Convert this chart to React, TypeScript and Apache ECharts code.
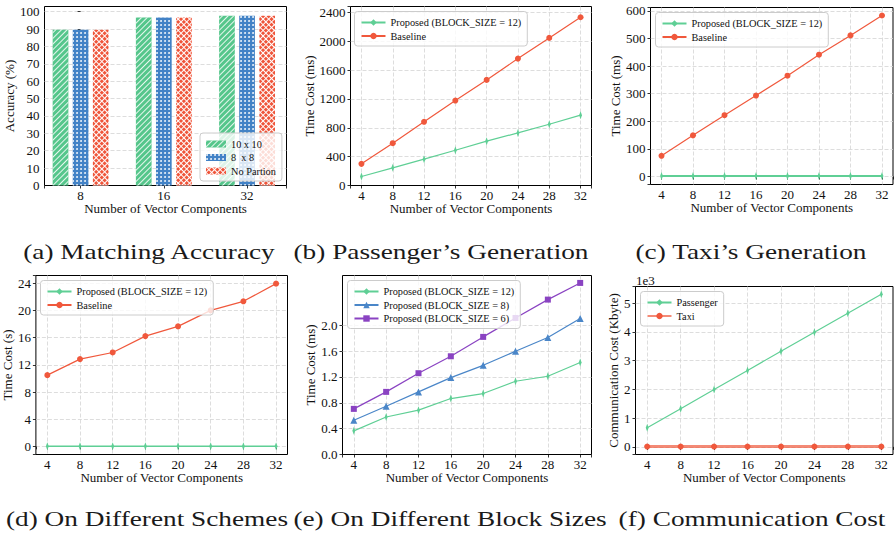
import React, { useEffect, useRef } from 'react';
import * as echarts from 'echarts';

// ---------------- data ----------------
const xComponents = [4, 8, 12, 16, 20, 24, 28, 32];

// (a) Matching accuracy
const accuracyCategories = ['8', '16', '32'];
const acc10x10 = [89.6, 96.7, 97.7];
const acc8x8 = [89.6, 96.7, 97.7];
const accNoPartion = [89.6, 96.7, 97.7];

// (b) Passenger's generation (ms)
const passengerProposed = [125, 245, 365, 489, 614, 729, 849, 974];
const passengerBaseline = [300, 586, 882, 1177, 1463, 1758, 2045, 2331];

// (c) Taxi's generation (ms)
const taxiProposed = [2, 2, 2, 2, 2, 2, 2, 2];
const taxiBaseline = [75, 149, 222, 293, 365, 441, 511, 583];

// (d) On different schemes (s)
const schemeProposed = [0.004, 0.006, 0.007, 0.009, 0.009, 0.011, 0.012, 0.014];
const schemeBaseline = [10.48, 12.84, 13.82, 16.23, 17.66, 20.02, 21.35, 23.95];

// (e) On different block sizes (ms)
const block12 = [0.366, 0.58, 0.686, 0.866, 0.943, 1.134, 1.211, 1.423];
const block8 = [0.531, 0.747, 0.969, 1.19, 1.38, 1.598, 1.81, 2.103];
const block6 = [0.706, 0.969, 1.258, 1.52, 1.82, 2.113, 2.397, 2.655];
const blockYTicks = [0, 0.4, 0.8, 1.2, 1.6, 2.0];

// (f) Communication cost (Kbyte)
const commPassenger = [663, 1326, 2000, 2660, 3330, 3990, 4650, 5310];
const commTaxi = [12, 12, 12, 12, 12, 12, 12, 12];

const captions = [
  '(a) Matching Accuracy',
  '(b) Passenger\u2019s Generation',
  '(c) Taxi\u2019s Generation',
  '(d) On Different Schemes',
  '(e) On Different Block Sizes',
  '(f) Communication Cost',
];

// ---------------- styles ----------------
const FONT = 'Liberation Serif';
const GREEN = '#5fcf95';
const RED = '#f0583c';
const BLUE = '#4a86c8';
const PURPLE = '#8a43c2';
const BAR_GREEN = '#55c68b';
const BAR_BLUE = '#4282c6';
const BAR_RED = '#ef553a';
const GRID_COLOR = '#d4d4d4';
const TEXT = '#111';
const THIN_DIAMOND = 'path://M3,0 L6,5 L3,10 L0,5 Z';

const isMultiple = (v: number, step: number) => Math.abs(v / step - Math.round(v / step)) < 1e-6;

const grids = [
  { left: 44.5, top: 6.5, width: 242, height: 179 },
  { left: 350.5, top: 6.5, width: 241, height: 179 },
  { left: 650.5, top: 7.5, width: 243, height: 177 },
  { left: 35.5, top: 275.5, width: 252, height: 179 },
  { left: 342.5, top: 275.5, width: 249, height: 179 },
  { left: 635.5, top: 286.5, width: 258, height: 168 },
];

const captionPos = [
  [149, 252],
  [441, 252],
  [751, 252],
  [147, 519],
  [450, 519],
  [752, 519],
];

const dashed = { color: GRID_COLOR, type: [4, 2] as any, width: 0.8 };
const labelStyle = { fontFamily: FONT, fontSize: 13, color: TEXT };
const tickStyle = { show: true, length: 3, lineStyle: { color: '#000', width: 0.8 } };

function lineXAxis(gridIndex: number) {
  return {
    type: 'value',
    gridIndex,
    min: 2.6,
    max: 33.4,
    minInterval: 4,
    maxInterval: 4,
    axisLine: { show: false },
    axisTick: { ...tickStyle },
    axisLabel: {
      ...labelStyle,
      margin: 3,
      formatter: (v: number) => (isMultiple(v, 4) ? String(Math.round(v)) : ''),
    },
    splitLine: { show: true, showMinLine: false, showMaxLine: false, lineStyle: dashed },
    name: 'Number of Vector Components',
    nameLocation: 'middle',
    nameGap: 15,
    nameTextStyle: { ...labelStyle },
  };
}

function yAxis(
  gridIndex: number,
  min: number,
  max: number,
  step: number,
  name: string,
  nameGap: number,
  fmt: (v: number) => string,
  showSplit = true
) {
  return {
    type: 'value',
    gridIndex,
    min,
    max,
    minInterval: step,
    maxInterval: step,
    axisLine: { show: false },
    axisTick: { ...tickStyle },
    axisLabel: {
      ...labelStyle,
      margin: 5,
      formatter: (v: number) => (isMultiple(v, step) ? fmt(v) : ''),
    },
    splitLine: { show: showSplit, showMinLine: false, showMaxLine: false, lineStyle: dashed },
    name,
    nameLocation: 'middle',
    nameGap,
    nameTextStyle: { ...labelStyle },
  };
}

function lineSeries(
  name: string,
  idx: number,
  values: number[],
  color: string,
  symbol: string,
  symbolSize: any,
  width = 1.2,
  extra: any = {}
) {
  return {
    type: 'line',
    name,
    xAxisIndex: idx,
    yAxisIndex: idx,
    data: xComponents.map((x, k) => [x, values[k]]),
    symbol,
    symbolSize,
    symbolKeepAspect: true,
    showSymbol: true,
    itemStyle: { color },
    lineStyle: { color, width },
    emphasis: { disabled: true },
    ...extra,
  };
}

function legend(left: number, top: number, names: string[], extra: any = {}) {
  return {
    left,
    top,
    orient: 'vertical',
    data: names,
    itemWidth: 24,
    itemHeight: 8,
    itemGap: 1.5,
    padding: [5, 6, 4, 6],
    backgroundColor: 'rgba(255,255,255,0.8)',
    borderColor: '#cccccc',
    borderWidth: 1,
    borderRadius: 3,
    selectedMode: false,
    textStyle: { fontFamily: FONT, fontSize: 10.3, color: TEXT, lineHeight: 12 },
    ...extra,
  };
}

function barSeries(name: string, values: number[], color: string, decal: any) {
  return {
    type: 'bar',
    name,
    xAxisIndex: 0,
    yAxisIndex: 0,
    data: values.map((v, i) => [i, v]),
    barWidth: 15.7,
    barGap: '28%',
    label: { show: false },
    emphasis: { disabled: true },
    itemStyle: { color, decal },
  };
}

const P12 = 'Proposed (BLOCK_SIZE = 12)';
const P8 = 'Proposed (BLOCK_SIZE = 8)';
const P6 = 'Proposed (BLOCK_SIZE = 6)';

const option: any = {
  animation: false,
  backgroundColor: '#ffffff',
  textStyle: { fontFamily: FONT },
  grid: grids.map((g) => ({ ...g, show: true, borderColor: '#000', borderWidth: 1, backgroundColor: 'transparent', containLabel: false })),
  xAxis: [
    {
      type: 'value',
      gridIndex: 0,
      min: -0.434,
      max: 2.474,
      minInterval: 1,
      maxInterval: 1,
      axisLine: { show: false },
      axisTick: { ...tickStyle },
      axisLabel: {
        ...labelStyle,
        margin: 3,
        formatter: (v: number) => {
          const i = Math.round(v);
          return isMultiple(v, 1) && i >= 0 && i < accuracyCategories.length ? accuracyCategories[i] : '';
        },
      },
      splitLine: { show: false },
      name: 'Number of Vector Components',
      nameLocation: 'middle',
      nameGap: 15,
      nameTextStyle: { ...labelStyle },
    },
    lineXAxis(1),
    lineXAxis(2),
    lineXAxis(3),
    lineXAxis(4),
    lineXAxis(5),
  ],
  yAxis: [
    yAxis(0, 0, 103, 10, 'Accuracy (%)', 25, (v) => String(Math.round(v))),
    yAxis(1, 0, 2480, 400, 'Time Cost (ms)', 30, (v) => String(Math.round(v))),
    yAxis(2, -29, 612, 100, 'Time Cost (ms)', 25, (v) => String(Math.round(v))),
    yAxis(3, -1.2, 25.15, 4, 'Time Cost (s)', 16, (v) => String(Math.round(v))),
    {
      ...yAxis(4, 0, 2.77, 0.4, 'Time Cost (ms)', 22, (v) => (v < 2.01 ? v.toFixed(1) : ''), false),
      axisTick: { ...tickStyle, customValues: blockYTicks },
    },
    yAxis(5, -265, 5580, 1000, 'Communication Cost (Kbyte)', 11, (v) => String(Math.round(v / 1000))),
  ],
  legend: [
    legend(200, 133, ['10 x 10', '8  x 8', 'No Partion'], { itemWidth: 20, itemHeight: 7, icon: 'rect' }),
    legend(354.5, 11.5, [P12, 'Baseline']),
    legend(655.5, 12.5, [P12, 'Baseline']),
    legend(40.5, 280.5, [P12, 'Baseline']),
    legend(347.5, 280.5, [P12, P8, P6]),
    legend(640.5, 291.5, ['Passenger', 'Taxi']),
  ],
  series: [
    barSeries('10 x 10', acc10x10, BAR_GREEN, {
      symbol: 'rect',
      symbolSize: 1,
      dashArrayX: [1, 0],
      dashArrayY: [1, 3],
      rotation: -Math.PI / 4,
      color: 'rgba(255,255,255,0.85)',
    }),
    barSeries('8  x 8', acc8x8, BAR_BLUE, {
      symbol: 'circle',
      symbolSize: 0.9,
      dashArrayX: [2, 2],
      dashArrayY: [2, 2],
      color: 'rgba(255,255,255,0.95)',
    }),
    barSeries('No Partion', accNoPartion, '#ffffff', {
      symbol: 'rect',
      symbolSize: 1,
      dashArrayX: [3, 1],
      dashArrayY: [3, 1],
      rotation: Math.PI / 4,
      color: BAR_RED,
    }),
    // (b)
    lineSeries(P12, 1, passengerProposed, GREEN, THIN_DIAMOND, [4.8, 8]),
    lineSeries('Baseline', 1, passengerBaseline, RED, 'circle', 6),
    // (c)
    lineSeries(P12, 2, taxiProposed, GREEN, THIN_DIAMOND, [4.8, 8], 2),
    lineSeries('Baseline', 2, taxiBaseline, RED, 'circle', 6),
    // (d)
    lineSeries(P12, 3, schemeProposed, GREEN, THIN_DIAMOND, [4.8, 8], 1.6),
    lineSeries('Baseline', 3, schemeBaseline, RED, 'circle', 6),
    // (e)
    lineSeries(P12, 4, block12, GREEN, THIN_DIAMOND, [4.8, 8], 1.2, {
      markLine: {
        silent: true,
        symbol: ['none', 'none'],
        label: { show: false },
        z: 1,
        lineStyle: { color: GRID_COLOR, type: [4, 2], width: 0.8 },
        emphasis: { disabled: true },
        data: blockYTicks.filter((v) => v > 0).map((v) => ({ yAxis: v })),
      },
    }),
    lineSeries(P8, 4, block8, BLUE, 'triangle', 7),
    lineSeries(P6, 4, block6, PURPLE, 'rect', 6),
    // (f)
    lineSeries('Passenger', 5, commPassenger, GREEN, THIN_DIAMOND, [4.8, 8]),
    lineSeries('Taxi', 5, commTaxi, RED, 'circle', 6, 3, { lineStyle: { color: RED, width: 3, opacity: 0.7 } }),
  ],
  graphic: [
    ...captionPos.map(([x, y], i) => ({
      type: 'text',
      x,
      y,
      scaleX: 1.3,
      silent: true,
      style: {
        text: captions[i],
        fontFamily: FONT,
        fontSize: 21,
        fill: '#1a1a1a',
        textAlign: 'center',
        align: 'center',
        verticalAlign: 'middle',
        textVerticalAlign: 'middle',
      },
    })),
    {
      type: 'text',
      x: 636,
      y: 280,
      silent: true,
      style: {
        text: '1e3',
        fontFamily: FONT,
        fontSize: 13,
        fill: TEXT,
        textAlign: 'left',
        align: 'left',
        verticalAlign: 'middle',
        textVerticalAlign: 'middle',
      },
    },
  ],
};

export default function App() {
  const ref = useRef<HTMLDivElement>(null);
  useEffect(() => {
    if (!ref.current) return;
    const chart = echarts.init(ref.current, null, { renderer: 'svg', width: 896, height: 534 });
    chart.setOption(option);
    return () => chart.dispose();
  }, []);
  return (
    <div
      ref={ref}
      style={{ position: 'absolute', left: 0, top: 0, width: 896, height: 534, background: '#fff' }}
    />
  );
}
